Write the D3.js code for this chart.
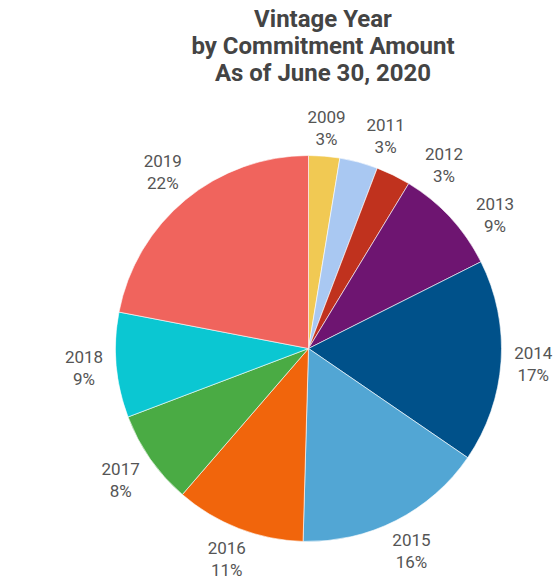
<!DOCTYPE html>
<html>
<head>
<meta charset="utf-8">
<script src="https://cdn.jsdelivr.net/npm/d3@7"></script>
<style>
  html, body { margin: 0; padding: 0; background: #fff; }
  svg { display: block; font-family: Roboto, "Noto Sans", Arial, sans-serif; }
</style>
</head>
<body>
<svg id="chart" width="558" height="579"></svg>
<script>
// Vintage years and share of total commitments (%)
const years = ["2009", "2011", "2012", "2013", "2014", "2015", "2016", "2017", "2018", "2019"];
const shares = [2.6, 3.2, 2.9, 8.9, 17.0, 15.9, 10.9, 7.9, 8.8, 22.0];
const labels = ["3%", "3%", "3%", "9%", "17%", "16%", "11%", "8%", "9%", "22%"];
const colors = ["#f1c953", "#a9c8f2", "#c0321e", "#6e1571", "#00518a",
                "#52a6d4", "#f1650c", "#4aab44", "#0bc7d2", "#f0645d"];
const titleLines = ["Vintage Year", "by Commitment Amount", "As of June 30, 2020"];

const svg = d3.select("#chart");
const cx = 308.5, cy = 348.5, radius = 193;
const labelGap = 12;

// Title
svg.append("g")
  .selectAll("text")
  .data(titleLines)
  .join("text")
  .attr("x", 323)
  .attr("y", (d, i) => 27 + i * 27)
  .attr("text-anchor", "middle")
  .attr("font-size", 24)
  .attr("font-weight", 700)
  .attr("fill", "#444444")
  .text(d => d);

const data = years.map((y, i) => ({ year: y, value: shares[i], label: labels[i], color: colors[i] }));

const pie = d3.pie().value(d => d.value).sort(null);
const arcs = pie(data);
const arc = d3.arc().innerRadius(0).outerRadius(radius);

const g = svg.append("g").attr("transform", `translate(${cx},${cy})`);

g.selectAll("path")
  .data(arcs)
  .join("path")
  .attr("d", arc)
  .attr("fill", d => d.data.color)
  .attr("stroke", "#ffffff")
  .attr("stroke-width", 0.6);

// Two-line labels (year + rounded share), centred on their anchor point.
const lab = g.selectAll("text.lab")
  .data(arcs)
  .join("text")
  .attr("class", "lab")
  .attr("text-anchor", "middle")
  .attr("font-size", 17)
  .attr("fill", "#555555");

lab.append("tspan").attr("x", 0).attr("y", -4).text(d => d.data.year);
lab.append("tspan").attr("x", 0).attr("y", 18).text(d => d.data.label);

// Label box sizes (glyph box, without the font's extra line spacing)
const boxes = [];
lab.each(function () {
  const b = this.getBBox();
  boxes.push({ w: b.width, h: b.height - 12, oy: b.y + b.height / 2 });
});

// Place each box just outside the rim along a given angle, so that its
// nearest edge keeps a constant gap from the pie.
function place(i, ang) {
  const s = Math.sin(ang), c = Math.cos(ang);
  const r = radius + labelGap + Math.abs(s) * boxes[i].w / 2 + Math.abs(c) * boxes[i].h / 2;
  return [r * s, -r * c];
}

// Sweep clockwise: push a label further round if it crowds the previous one.
const pad = 20;
const placed = [];
arcs.forEach((a, i) => {
  let ang = (a.startAngle + a.endAngle) / 2;
  let p = place(i, ang);
  if (i > 0) {
    const q = placed[i - 1];
    let guard = 0;
    while (Math.abs(p[0] - q[0]) < (boxes[i].w + boxes[i - 1].w) / 2 + pad &&
           Math.abs(p[1] - q[1]) < (boxes[i].h + boxes[i - 1].h) / 2 + pad && guard < 200) {
      ang += 0.005;
      p = place(i, ang);
      guard++;
    }
  }
  placed.push(p);
});

lab.attr("transform", (d, i) => `translate(${placed[i][0]},${placed[i][1] - boxes[i].oy})`);
</script>
</body>
</html>
